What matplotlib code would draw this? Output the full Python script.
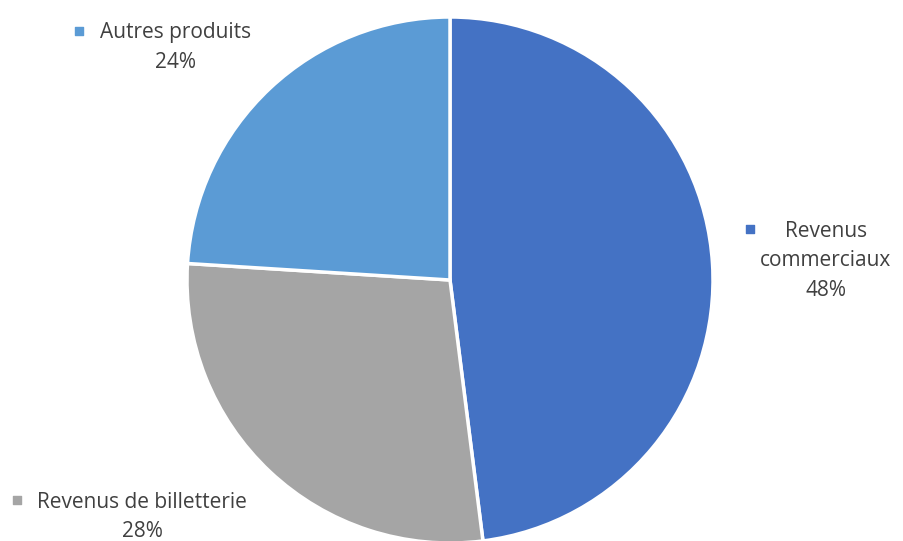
import matplotlib
matplotlib.use("Agg")
import matplotlib.pyplot as plt

categories = ["Revenus commerciaux", "Revenus de billetterie", "Autres produits"]
values = [48, 28, 24]
colors = ["#4472C4", "#A5A5A5", "#5B9BD5"]
label_lines = [["Revenus", "commerciaux", "48%"],
               ["Revenus de billetterie", "28%"],
               ["Autres produits", "24%"]]

W, H = 904, 541
fig = plt.figure(figsize=(W / 100, H / 100), dpi=100)
ax = fig.add_axes([0, 0, 1, 1])

# pie in pixel coordinates (y axis inverted, so counterclock=True draws clockwise)
ax.pie(values, colors=colors, startangle=-90, counterclock=True,
       center=(450, 280), radius=263, frame=True,
       wedgeprops=dict(edgecolor="white", linewidth=2.5))
ax.set_xlim(0, W)
ax.set_ylim(H, 0)
ax.set_aspect("equal")
ax.axis("off")

# label anchors: text centre x, first baseline y, marker x, marker y
label_pos = [(826, 237, 750, 229), (142, 508, 17, 500), (176, 38, 79, 31)]
line_step = 29.5
for lines, col, (tx, ty, mx, my) in zip(label_lines, colors, label_pos):
    for i, line in enumerate(lines):
        ax.text(tx, ty + i * line_step, line, ha="center", va="baseline",
                fontsize=15, family="Open Sans", color="#404040")
    ax.scatter([mx], [my], marker="s", s=30, color=col, zorder=5)

fig.savefig("out.png", dpi=100)
